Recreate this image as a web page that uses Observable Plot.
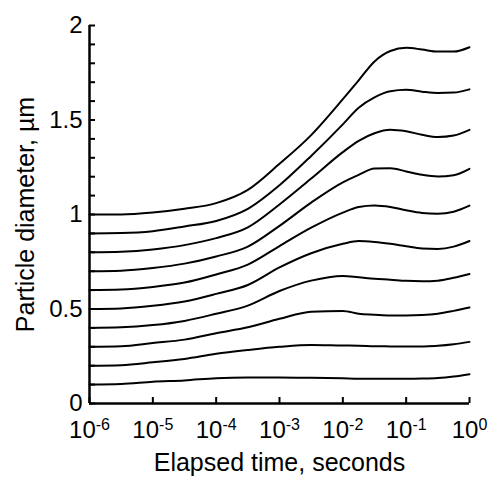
<!DOCTYPE html>
<html><head><meta charset="utf-8">
<script src="https://cdn.jsdelivr.net/npm/d3@7"></script>
<script src="https://cdn.jsdelivr.net/npm/@observablehq/plot@0.6"></script>
<style>body{margin:0;background:#fff}</style>
</head><body><div id="chart"></div>
<script>
// log10 of elapsed time (s) at which diameters were read
const logTime = [-6,-5.5,-5,-4.5,-4,-3.5,-3,-2.5,-2,-1.75,-1.5,-1.25,-1,-0.75,-0.5,-0.25,0];
// particle diameter (µm), one array per initial size
const start100 = [1.0,1.0,1.01,1.03,1.06,1.13,1.268,1.42,1.61,1.71,1.81,1.865,1.882,1.873,1.862,1.862,1.885];
const start090 = [0.9,0.902,0.912,0.937,0.966,1.03,1.155,1.31,1.477,1.565,1.62,1.652,1.66,1.65,1.643,1.645,1.662];
const start080 = [0.8,0.803,0.815,0.838,0.875,0.932,1.053,1.19,1.33,1.39,1.43,1.448,1.44,1.422,1.41,1.418,1.448];
const start070 = [0.7,0.703,0.717,0.74,0.778,0.83,0.94,1.063,1.17,1.21,1.243,1.245,1.228,1.21,1.201,1.208,1.242];
const start060 = [0.6,0.603,0.617,0.64,0.683,0.735,0.833,0.93,1.01,1.04,1.048,1.04,1.022,1.008,1.004,1.015,1.047];
const start050 = [0.5,0.503,0.517,0.54,0.58,0.627,0.72,0.795,0.845,0.86,0.855,0.845,0.832,0.82,0.818,0.83,0.86];
const start040 = [0.4,0.403,0.415,0.437,0.475,0.518,0.595,0.65,0.675,0.668,0.66,0.655,0.649,0.647,0.65,0.665,0.685];
const start030 = [0.3,0.303,0.32,0.338,0.372,0.403,0.448,0.485,0.49,0.475,0.47,0.466,0.466,0.468,0.475,0.49,0.508];
const start020 = [0.2,0.203,0.218,0.236,0.263,0.283,0.30,0.31,0.307,0.306,0.303,0.302,0.301,0.302,0.305,0.313,0.326];
const start010 = [0.1,0.103,0.115,0.122,0.134,0.138,0.138,0.136,0.133,0.131,0.131,0.131,0.131,0.132,0.135,0.143,0.155];

const xTicks = [1e-6,1e-5,1e-4,1e-3,1e-2,1e-1,1];
const xTickLabels = ["10^-6","10^-5","10^-4","10^-3","10^-2","10^-1","10^0"];
const yLabelTicks = [0,0.5,1,1.5,2];
const yLabelText = ["0","0.5","1","1.5","2"];
const yMinorTicks = d3.range(0,21).map(i => i/10);

const allSeries = [start100,start090,start080,start070,start060,start050,start040,start030,start020,start010];
const data = allSeries.flatMap((vals,s) => vals.map((v,j) => ({t: Math.pow(10, logTime[j]), d: v, s})));

const W = 490, H = 477, mL = 89, mR = 21, mT = 25, mB = 74;
const frameW = W - mL - mR, frameH = H - mT - mB;

const svg = Plot.plot({
  width: W, height: H,
  marginLeft: mL, marginRight: mR, marginTop: mT, marginBottom: mB,
  style: {fontFamily: "Liberation Sans, Arial, sans-serif", fontSize: "24px", background: "white", color: "black", overflow: "visible"},
  x: {type: "log", domain: [1e-6, 1]},
  y: {domain: [0, 2]},
  marks: [
    Plot.axisX({ticks: xTicks, tickSize: 0, tickPadding: 17, tickFormat: d => xTickLabels[xTicks.indexOf(d)], label: null, fontSize: 24}),
    Plot.axisY({ticks: yLabelTicks, tickSize: 0, tickPadding: 7, tickFormat: d => yLabelText[yLabelTicks.indexOf(d)], label: null, fontSize: 24}),
    Plot.tickY(yMinorTicks, {y: d => d, stroke: "black", strokeWidth: 2, insetRight: frameW - 6}),
    Plot.tickX(xTicks, {x: d => d, stroke: "black", strokeWidth: 2, insetTop: frameH - 6}),
    Plot.ruleX([1e-6], {stroke: "black", strokeWidth: 2.5}),
    Plot.ruleY([0], {stroke: "black", strokeWidth: 2.5}),
    Plot.line(data, {x: "t", y: "d", z: "s", stroke: "black", strokeWidth: 2, curve: "monotone-x"}),
    Plot.text(["Particle diameter, µm"], {frameAnchor: "left", textAnchor: "middle", lineAnchor: "middle", rotate: -90, dx: -64, fontSize: 25}),
    Plot.text(["Elapsed time, seconds"], {frameAnchor: "bottom", textAnchor: "middle", lineAnchor: "top", dy: 50, fontSize: 25})
  ]
});

const ns = "http://www.w3.org/2000/svg";
svg.querySelectorAll("text").forEach(t => {
  const s = t.textContent;
  if (!s.includes("^")) return;
  const [b, e] = s.split("^");
  t.textContent = "";
  const t1 = document.createElementNS(ns, "tspan"); t1.textContent = b;
  const t2 = document.createElementNS(ns, "tspan"); t2.textContent = e;
  t2.setAttribute("dy", "-8"); t2.setAttribute("font-size", "16");
  t.append(t1, t2);
});
document.getElementById("chart").append(svg);
</script>
</body></html>
